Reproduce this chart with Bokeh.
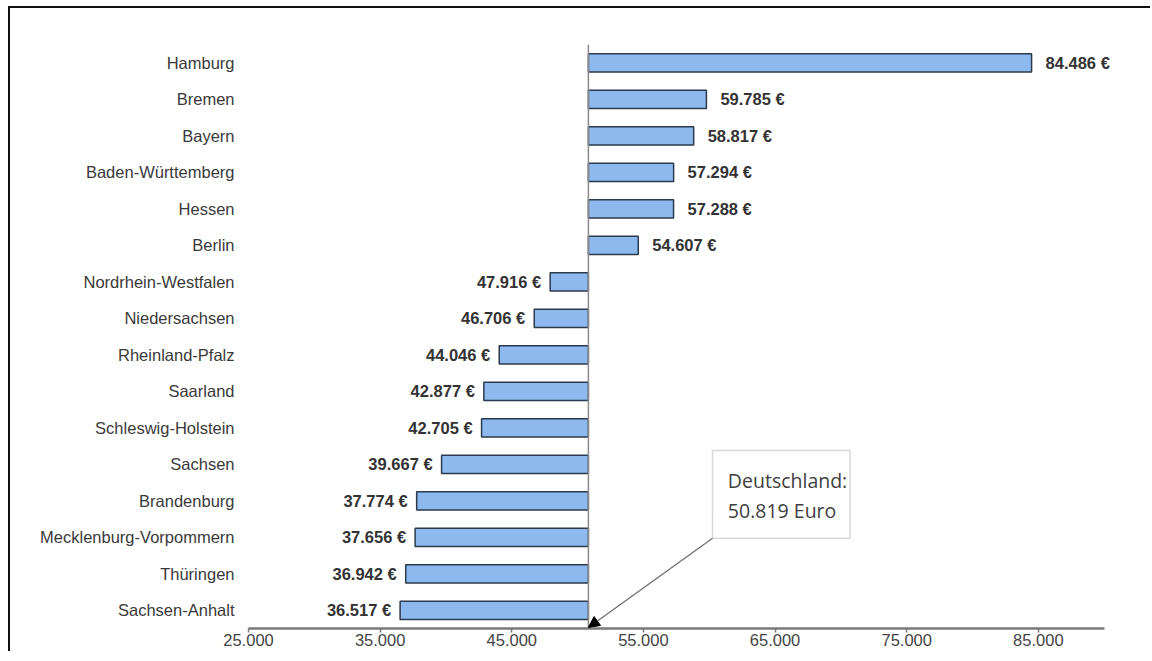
from bokeh.plotting import figure
from bokeh.models import (FactorRange, Range1d, ColumnDataSource, Span, FixedTicker,
                          Arrow, NormalHead, BoxAnnotation, Label, LabelSet)
from bokeh.core.properties import value
from bokeh.embed import file_html
from bokeh.resources import INLINE

# ---- data ----
states = ["Hamburg", "Bremen", "Bayern", "Baden-Württemberg", "Hessen", "Berlin",
          "Nordrhein-Westfalen", "Niedersachsen", "Rheinland-Pfalz", "Saarland",
          "Schleswig-Holstein", "Sachsen", "Brandenburg", "Mecklenburg-Vorpommern",
          "Thüringen", "Sachsen-Anhalt"]
gdp = [84486, 59785, 58817, 57294, 57288, 54607, 47916, 46706, 44046, 42877,
       42705, 39667, 37774, 37656, 36942, 36517]
germany = 50819
x_ticks = [25000, 35000, 45000, 55000, 65000, 75000, 85000]
x_tick_labels = ["25.000", "35.000", "45.000", "55.000", "65.000", "75.000", "85.000"]
note_lines = ["Deutschland:", "50.819 Euro"]

def fmt(v):
    return f"{v:,}".replace(",", ".") + " €"

labels = [fmt(v) for v in gdp]

FONT = "Liberation Sans"
FS = "16.5px"

p = figure(width=1142, height=645, output_backend="svg", toolbar_location=None,
           y_range=FactorRange(factors=list(reversed(states))),
           x_range=Range1d(25000, 92000),
           min_border_left=238, min_border_right=22, min_border_top=36, min_border_bottom=25)
p.styles = {"border-left": "2px solid #111", "border-top": "2px solid #111",
            "border-right": "none", "border-bottom": "none",
            "margin-left": "8px", "margin-top": "6px"}
p.outline_line_color = None
p.xgrid.grid_line_color = None
p.ygrid.grid_line_color = None
p.background_fill_color = "white"
p.border_fill_color = "white"

src = ColumnDataSource(dict(state=states, gdp=gdp, base=[germany] * len(gdp), label=labels))
p.hbar(y="state", left="base", right="gdp", height=0.5, source=src,
       fill_color="#8DB9EE", line_color="#2B3A4C", line_width=1.5)

above = ColumnDataSource(dict(state=[s for s, v in zip(states, gdp) if v > germany],
                              gdp=[v for v in gdp if v > germany],
                              label=[l for l, v in zip(labels, gdp) if v > germany]))
below = ColumnDataSource(dict(state=[s for s, v in zip(states, gdp) if v <= germany],
                              gdp=[v for v in gdp if v <= germany],
                              label=[l for l, v in zip(labels, gdp) if v <= germany]))
p.add_layout(LabelSet(x="gdp", y="state", text="label", source=above, x_offset=14,
                      text_align="left", text_baseline="middle", text_font=value(FONT),
                      text_font_size=value(FS), text_font_style="bold", text_color="#333333"))
p.add_layout(LabelSet(x="gdp", y="state", text="label", source=below, x_offset=-9,
                      text_align="right", text_baseline="middle", text_font=value(FONT),
                      text_font_size=value(FS), text_font_style="bold", text_color="#333333"))

p.add_layout(Span(location=germany, dimension="height", line_color="#8A8A8A", line_width=1.5))

# axes
xa = p.xaxis[0]
xa.bounds = (25000, 90000)
xa.ticker = FixedTicker(ticks=x_ticks)
xa.major_label_overrides = {t: l for t, l in zip(x_ticks, x_tick_labels)}
xa.axis_line_color = "#7A7A7A"
xa.axis_line_width = 2.5
xa.major_tick_line_color = "#7A7A7A"
xa.major_tick_line_width = 1.5
xa.major_tick_in = 0
xa.major_tick_out = 4
xa.minor_tick_line_color = None
xa.major_label_standoff = 1
xa.major_label_text_font = FONT
xa.major_label_text_font_size = FS
xa.major_label_text_color = "#444444"

ya = p.yaxis[0]
ya.axis_line_color = None
ya.major_tick_line_color = None
ya.minor_tick_line_color = None
ya.major_label_standoff = 8
ya.major_label_text_font = FONT
ya.major_label_text_font_size = FS
ya.major_label_text_color = "#3A3A3A"

# annotation box with arrow
p.add_layout(BoxAnnotation(left=60250, right=70690, bottom=2.47, top=4.88,
                           fill_color="white", fill_alpha=1.0,
                           line_color="#7F7F7F", line_width=1.5, level="annotation"))
p.add_layout(Label(x=61415, y=4.05, text=note_lines[0], text_font="Open Sans",
                   text_font_size="19.5px", text_color="#404040", text_baseline="alphabetic"))
p.add_layout(Label(x=61415, y=3.23, text=note_lines[1], text_font="Open Sans",
                   text_font_size="19.5px", text_color="#404040", text_baseline="alphabetic"))
p.add_layout(Arrow(end=NormalHead(size=11, fill_color="black", line_color="black"),
                   x_start=60250, y_start=2.47, x_end=germany, y_end=0.03,
                   line_color="#6F6F6F", line_width=1.3))

open("out.html", "w").write(file_html(p, INLINE))
